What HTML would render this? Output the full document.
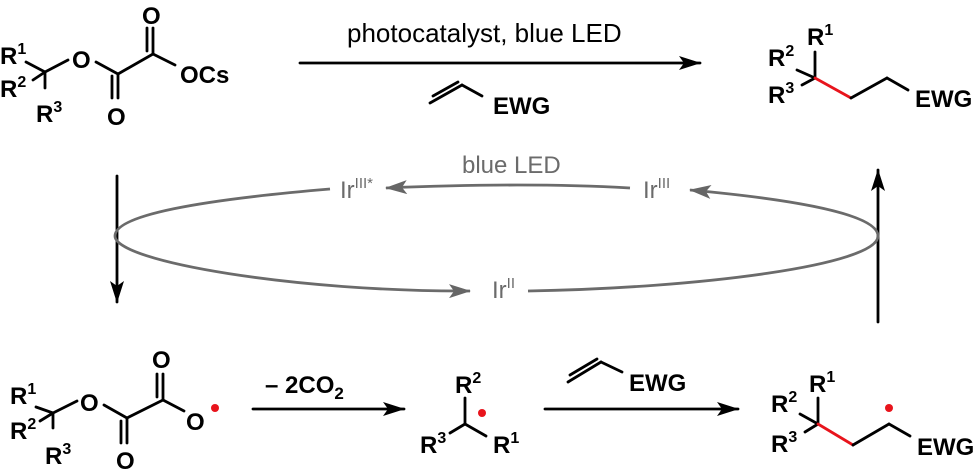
<!DOCTYPE html>
<html><head><meta charset="utf-8"><style>
html,body{margin:0;padding:0;background:#fff}
svg{display:block}
text{font-family:"Liberation Sans",Arial,sans-serif}
.b{font-weight:bold;font-size:24px;fill:#000}
.s{font-size:16px}
.g{font-size:24px;fill:#6b6b6b}
.gs{font-size:15px}
</style></head><body>
<svg width="978" height="471" viewBox="0 0 978 471" xmlns="http://www.w3.org/2000/svg">
<defs>
<marker id="ah" markerWidth="22" markerHeight="14" refX="21" refY="7" orient="auto" markerUnits="userSpaceOnUse"><path d="M0,0 L22,7 L0,14 L5,7z" fill="#000"/></marker>
<marker id="gh" markerWidth="22" markerHeight="14" refX="21" refY="7" orient="auto" markerUnits="userSpaceOnUse"><path d="M0,0 L22,7 L0,14 L5,7z" fill="#666"/></marker>
</defs>
<g stroke="#000" stroke-width="2.8" fill="none" stroke-linecap="round">
<line x1="26" y1="62" x2="45" y2="72"/><line x1="33" y1="80" x2="45" y2="72"/><line x1="45" y1="72" x2="45" y2="88"/>
<line x1="45" y1="72" x2="68" y2="60"/><line x1="96" y1="62" x2="118" y2="74"/>
<line x1="118" y1="74" x2="118" y2="98"/><line x1="112" y1="76" x2="112" y2="98"/>
<line x1="118" y1="74" x2="153" y2="54"/>
<line x1="153" y1="54" x2="153" y2="28"/><line x1="147" y1="51" x2="147" y2="28"/>
<line x1="153" y1="54" x2="175" y2="65"/>
<line x1="300" y1="63" x2="700" y2="63" marker-end="url(#ah)"/>
<line x1="430" y1="103" x2="462" y2="85"/><line x1="433" y1="96" x2="458" y2="82"/><line x1="462" y1="85" x2="482" y2="96"/>
<line x1="815" y1="52" x2="815" y2="78"/><line x1="797" y1="70" x2="815" y2="78"/><line x1="802" y1="85" x2="815" y2="78"/>
<line x1="815" y1="78" x2="851" y2="98" stroke="#e8141c"/><line x1="851" y1="98" x2="887" y2="78"/><line x1="887" y1="78" x2="908" y2="90"/>
<line x1="117" y1="176" x2="117" y2="302" marker-end="url(#ah)"/>
<line x1="878" y1="322" x2="878" y2="170" marker-end="url(#ah)"/>
<line x1="36" y1="407" x2="53" y2="413"/><line x1="40" y1="421" x2="53" y2="413"/><line x1="53" y1="413" x2="53" y2="428"/>
<line x1="53" y1="413" x2="77" y2="401"/><line x1="104" y1="405" x2="127" y2="418"/>
<line x1="127" y1="418" x2="127" y2="443"/><line x1="121" y1="421" x2="121" y2="443"/>
<line x1="127" y1="418" x2="163" y2="400"/>
<line x1="163" y1="400" x2="163" y2="374"/><line x1="157" y1="397" x2="157" y2="374"/>
<line x1="163" y1="400" x2="184" y2="411"/>
<line x1="253" y1="409" x2="404" y2="409" marker-end="url(#ah)"/>
<line x1="465" y1="398" x2="465" y2="424"/><line x1="465" y1="424" x2="450" y2="433"/><line x1="465" y1="424" x2="486" y2="436"/>
<line x1="545" y1="409" x2="738" y2="409" marker-end="url(#ah)"/>
<line x1="568" y1="382" x2="601" y2="362"/><line x1="570" y1="375" x2="597" y2="359"/><line x1="601" y1="362" x2="622" y2="372"/>
<line x1="818" y1="398" x2="818" y2="424"/><line x1="800" y1="414" x2="818" y2="424"/><line x1="805" y1="432" x2="818" y2="424"/>
<line x1="818" y1="424" x2="853" y2="445" stroke="#e8141c"/><line x1="853" y1="445" x2="889" y2="424"/><line x1="889" y1="424" x2="910" y2="436"/>
</g>
<g stroke="#6b6b6b" stroke-width="2.8" fill="none">
<path d="M330,189 C200,200 115,215 115,236 C115,262 300,292 470,291" marker-end="url(#gh)"/>
<path d="M528,291 C700,288 878,265 878,236 C878,215 800,200 690,190" marker-end="url(#gh)"/>
<path d="M630,188 C560,184 480,184 386,188" marker-end="url(#gh)"/>
</g>
<g class="g">
<text x="462" y="173">blue LED</text>
<text x="340" y="198">Ir<tspan class="gs" dy="-10">III*</tspan></text>
<text x="643" y="198">Ir<tspan class="gs" dy="-10">III</tspan></text>
<text x="492" y="298">Ir<tspan class="gs" dy="-10">II</tspan></text>
</g>
<text x="347" y="42" font-size="26" fill="#000">photocatalyst, blue LED</text>
<g class="b">
<text x="0" y="64">R<tspan class="s" dy="-10">1</tspan></text>
<text x="0" y="97">R<tspan class="s" dy="-10">2</tspan></text>
<text x="36" y="122">R<tspan class="s" dy="-10">3</tspan></text>
<text x="72" y="68">O</text>
<text x="107" y="125">O</text>
<text x="142" y="24">O</text>
<text x="180" y="83">OCs</text>
<text x="493" y="114">EWG</text>
<text x="807" y="45">R<tspan class="s" dy="-10">1</tspan></text>
<text x="768" y="66">R<tspan class="s" dy="-10">2</tspan></text>
<text x="768" y="103">R<tspan class="s" dy="-10">3</tspan></text>
<text x="915" y="107">EWG</text>
<text x="10" y="404">R<tspan class="s" dy="-10">1</tspan></text>
<text x="10" y="439">R<tspan class="s" dy="-10">2</tspan></text>
<text x="45" y="464">R<tspan class="s" dy="-10">3</tspan></text>
<text x="80" y="411">O</text>
<text x="116" y="469">O</text>
<text x="152" y="368">O</text>
<text x="186" y="430">O</text>
<text x="265" y="393">– 2CO<tspan font-size="17" dy="6">2</tspan></text>
<text x="455" y="393">R<tspan class="s" dy="-10">2</tspan></text>
<text x="420" y="453">R<tspan class="s" dy="-10">3</tspan></text>
<text x="493" y="453">R<tspan class="s" dy="-10">1</tspan></text>
<text x="629" y="391">EWG</text>
<text x="809" y="392">R<tspan class="s" dy="-10">1</tspan></text>
<text x="771" y="412">R<tspan class="s" dy="-10">2</tspan></text>
<text x="771" y="452">R<tspan class="s" dy="-10">3</tspan></text>
<text x="917" y="455">EWG</text>
</g>
<circle cx="215" cy="408" r="4" fill="#e8141c"/>
<circle cx="482" cy="413" r="4" fill="#e8141c"/>
<circle cx="889" cy="408" r="4" fill="#e8141c"/>
</svg>
</body></html>
